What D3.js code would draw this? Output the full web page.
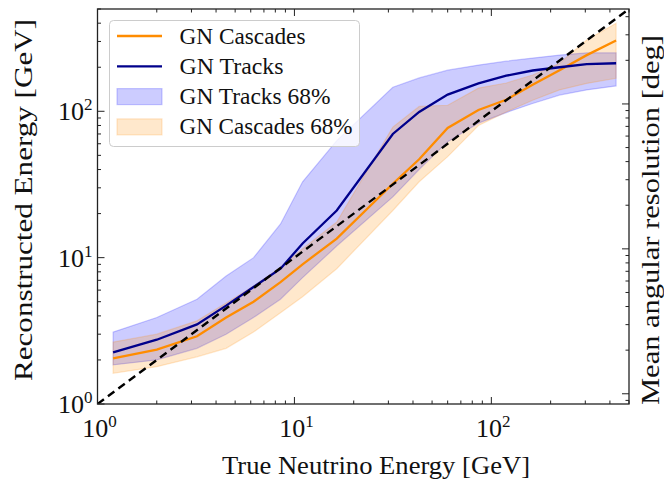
<!DOCTYPE html>
<html>
<head>
<meta charset="utf-8">
<script src="https://cdn.jsdelivr.net/npm/d3@7"></script>
<style>
  html, body { margin: 0; padding: 0; background: #fff; }
  svg { display: block; }
  text { font-family: "Liberation Serif", "DejaVu Serif", serif; fill: #111; }
</style>
</head>
<body>
<svg id="chart" width="664" height="480"></svg>
<script>
// True neutrino energy bin centres [GeV]
const energy = [1.2, 2.0, 3.2, 4.5, 6.2, 8.5, 11, 16.4, 31.6, 43, 60, 86, 119, 162, 222, 305, 430];

// GN Cascades: median reconstructed energy and 68% interval
const cascMedian = [2.05, 2.35, 2.9, 3.9, 5.0, 6.8, 9.0, 13.5, 32, 47, 77, 102, 120, 152, 191, 242, 305];
const cascLow    = [1.62, 1.8, 2.1, 2.4, 3.1, 4.2, 5.4, 8.4, 21, 33, 49, 80, 99, 119, 140, 155, 168];
const cascHigh   = [2.65, 3.0, 3.7, 4.9, 6.4, 8.6, 11.5, 17.5, 78, 108, 110, 144, 156, 177, 213, 307, 400];

// GN Tracks: median reconstructed energy and 68% interval
const trkMedian = [2.25, 2.75, 3.5, 4.7, 6.3, 8.4, 12.5, 21, 70, 99, 130, 155, 175, 190, 200, 210, 213];
const trkLow    = [1.85, 2.0, 2.4, 3.0, 3.9, 5.2, 7.3, 12, 26, 40, 62, 83, 98, 113, 129, 140, 149];
const trkHigh   = [3.1, 3.9, 5.2, 7.5, 10, 17, 33, 63, 146, 169, 191, 207, 220, 231, 242, 251, 251];

const xTickExps = [0, 1, 2];
const yTickExps = [0, 1, 2];

const legendItems = [
  { label: "GN Cascades",      kind: "line", color: "#ff8c00" },
  { label: "GN Tracks",        kind: "line", color: "#00008b" },
  { label: "GN Tracks 68%",    kind: "band", color: "#0000ff" },
  { label: "GN Cascades 68%",  kind: "band", color: "#ff8c00" }
];

const svg = d3.select("#chart");
const margin = { left: 97.5, right: 35, top: 9, bottom: 76 };
const W = 664, H = 480;
const x0 = margin.left, x1 = W - margin.right;
const y0 = H - margin.bottom, y1 = margin.top;

const x = d3.scaleLog().domain([1, 500]).range([x0, x1]);
const y = d3.scaleLog().domain([1, 500]).range([y0, y1]);
// twin axis on the right (angular resolution)
const yR = d3.scaleLog().domain([0.85, 452]).range([y0, y1]);

const clipId = "plotclip";
svg.append("defs").append("clipPath").attr("id", clipId)
  .append("rect").attr("x", x0).attr("y", y1).attr("width", x1 - x0).attr("height", y0 - y1);

const plot = svg.append("g").attr("clip-path", `url(#${clipId})`);

const rows = energy.map((e, i) => ({
  e,
  cm: cascMedian[i], cl: cascLow[i], ch: cascHigh[i],
  tm: trkMedian[i], tl: trkLow[i], th: trkHigh[i]
}));

function band(lowKey, highKey) {
  return d3.area().x(d => x(d.e)).y0(d => y(d[lowKey])).y1(d => y(d[highKey]));
}
function line(key) {
  return d3.line().x(d => x(d.e)).y(d => y(d[key]));
}

// 68% bands
plot.append("path").datum(rows).attr("d", band("tl", "th"))
  .attr("fill", "#0000ff").attr("fill-opacity", 0.2)
  .attr("stroke", "#0000ff").attr("stroke-opacity", 0.2).attr("stroke-width", 1.2);
plot.append("path").datum(rows).attr("d", band("cl", "ch"))
  .attr("fill", "#ff8c00").attr("fill-opacity", 0.2)
  .attr("stroke", "#ff8c00").attr("stroke-opacity", 0.2).attr("stroke-width", 1.2);

// medians
plot.append("path").datum(rows).attr("d", line("cm"))
  .attr("fill", "none").attr("stroke", "#ff8c00").attr("stroke-width", 2.3);
plot.append("path").datum(rows).attr("d", line("tm"))
  .attr("fill", "none").attr("stroke", "#00008b").attr("stroke-width", 2.3);

// y = x reference
plot.append("line")
  .attr("x1", x(1)).attr("y1", y(1)).attr("x2", x(500)).attr("y2", y(500))
  .attr("stroke", "#000").attr("stroke-width", 2.4).attr("stroke-dasharray", "8,5");

// axes (ticks pointing inward, mirrored on top)
const majorLen = 7, minorLen = 3.5;
function logTicks(scale) {
  const [a, b] = scale.domain();
  const out = [];
  for (let k = Math.floor(Math.log10(a)); k <= Math.ceil(Math.log10(b)); k++) {
    for (let m = 1; m <= 9; m++) {
      const v = m * Math.pow(10, k);
      if (v >= a * 0.9999 && v <= b * 1.0001) out.push({ v, major: m === 1 });
    }
  }
  return out;
}
const tickG = svg.append("g").attr("stroke", "#222").attr("stroke-width", 1);
logTicks(x).forEach(t => {
  const px = x(t.v), L = t.major ? majorLen : minorLen;
  tickG.append("line").attr("x1", px).attr("x2", px).attr("y1", y0).attr("y2", y0 - L);
  tickG.append("line").attr("x1", px).attr("x2", px).attr("y1", y1).attr("y2", y1 + L);
});
logTicks(y).forEach(t => {
  const py = y(t.v), L = t.major ? majorLen : minorLen;
  tickG.append("line").attr("x1", x0).attr("x2", x0 + L).attr("y1", py).attr("y2", py);
});
logTicks(yR).forEach(t => {
  const py = yR(t.v), L = t.major ? majorLen : minorLen;
  tickG.append("line").attr("x1", x1).attr("x2", x1 - L).attr("y1", py).attr("y2", py);
});

// frame
svg.append("rect").attr("x", x0).attr("y", y1).attr("width", x1 - x0).attr("height", y0 - y1)
  .attr("fill", "none").attr("stroke", "#222").attr("stroke-width", 1.3);

// tick labels
function powLabel(g, exp) {
  g.append("tspan").text("10");
  g.append("tspan").attr("dy", -10).attr("font-size", 17).text(exp);
}
xTickExps.forEach(k => {
  const t = svg.append("text").attr("x", x(Math.pow(10, k)) + 2).attr("y", y0 + 33)
    .attr("text-anchor", "middle").attr("font-size", 26);
  powLabel(t, k);
});
yTickExps.forEach(k => {
  const t = svg.append("text").attr("x", x0 - 5).attr("y", y(Math.pow(10, k)) + 9)
    .attr("text-anchor", "end").attr("font-size", 26);
  powLabel(t, k);
});

// axis titles
svg.append("text").attr("x", 376).attr("y", 474).attr("text-anchor", "middle")
  .attr("font-size", 26).attr("textLength", 308).attr("lengthAdjust", "spacingAndGlyphs")
  .text("True Neutrino Energy [GeV]");
svg.append("text").attr("transform", `translate(32,200) rotate(-90)`)
  .attr("text-anchor", "middle").attr("font-size", 26).attr("textLength", 362)
  .attr("lengthAdjust", "spacingAndGlyphs").text("Reconstructed Energy [GeV]");
svg.append("text").attr("transform", `translate(659,220) rotate(-90)`)
  .attr("text-anchor", "middle").attr("font-size", 26).attr("textLength", 370)
  .attr("lengthAdjust", "spacingAndGlyphs").text("Mean angular resolution [deg]");

// legend
const lg = svg.append("g").attr("transform", "translate(109.5,20.5)");
lg.append("rect").attr("width", 250).attr("height", 126).attr("rx", 4)
  .attr("fill", "#fff").attr("fill-opacity", 0.8).attr("stroke", "#ccc").attr("stroke-width", 1);
const legendWidths = [126, 104, 151, 173];
legendItems.forEach((d, i) => {
  const cy = 15.5 + i * 30.3;
  if (d.kind === "line") {
    lg.append("line").attr("x1", 7.5).attr("x2", 52.5).attr("y1", cy).attr("y2", cy)
      .attr("stroke", d.color).attr("stroke-width", 2.3);
  } else {
    lg.append("rect").attr("x", 7.5).attr("y", cy - 8).attr("width", 45).attr("height", 16)
      .attr("fill", d.color).attr("fill-opacity", 0.2)
      .attr("stroke", d.color).attr("stroke-opacity", 0.2).attr("stroke-width", 1.2);
  }
  lg.append("text").attr("x", 70).attr("y", cy + 7.5).attr("font-size", 23)
    .attr("textLength", legendWidths[i]).attr("lengthAdjust", "spacingAndGlyphs").text(d.label);
});
</script>
</body>
</html>
